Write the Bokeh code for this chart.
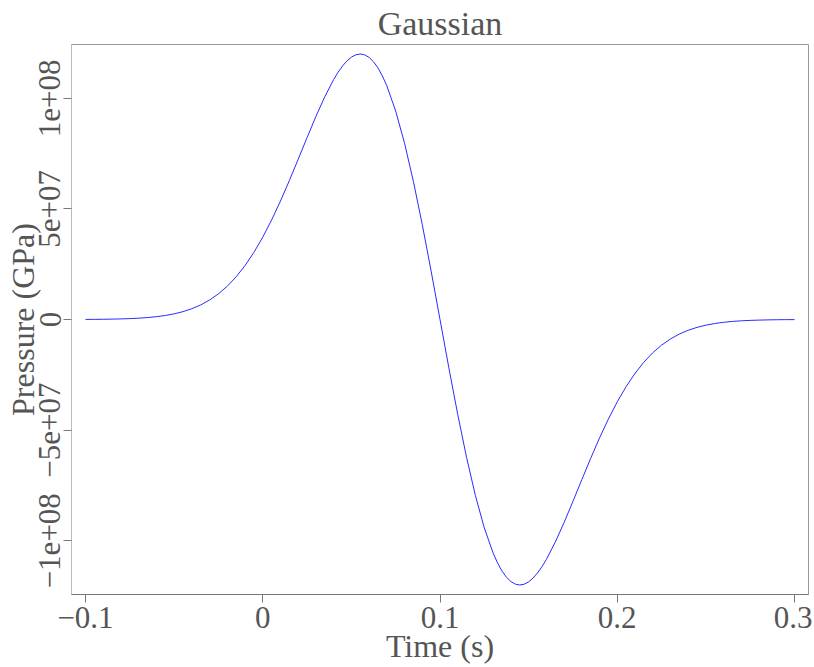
from bokeh.plotting import figure
from bokeh.models import Range1d, FixedTicker
from bokeh.embed import file_html
from bokeh.resources import INLINE

# Time samples (s)
time_s = [
    -0.100, -0.095, -0.090, -0.085, -0.080, -0.075, -0.070, -0.065, -0.060, -0.055,
    -0.050, -0.045, -0.040, -0.035, -0.030, -0.025, -0.020, -0.015, -0.010, -0.005,
    0.000, 0.005, 0.010, 0.015, 0.020, 0.025, 0.030, 0.035,
    0.0400, 0.0425, 0.0450, 0.0475, 0.0500, 0.0525, 0.0550, 0.0575, 0.0600, 0.0625,
    0.0650, 0.0675, 0.0700,
    0.075, 0.080, 0.085, 0.090, 0.095, 0.100, 0.105, 0.110, 0.115, 0.120, 0.125,
    0.1300, 0.1325, 0.1350, 0.1375, 0.1400, 0.1425, 0.1450, 0.1475, 0.1500, 0.1525,
    0.1550, 0.1575, 0.1600,
    0.165, 0.170, 0.175, 0.180, 0.185, 0.190, 0.195, 0.200, 0.205, 0.210,
    0.215, 0.220, 0.225, 0.230, 0.235, 0.240, 0.245, 0.250, 0.255, 0.260,
    0.265, 0.270, 0.275, 0.280, 0.285, 0.290, 0.295, 0.300,
]

# Pressure values (GPa)
pressure = [
    0.05e6, 0.07e6, 0.11e6, 0.17e6, 0.27e6, 0.40e6, 0.60e6, 0.87e6, 1.27e6, 1.81e6,
    2.55e6, 3.55e6, 4.87e6, 6.59e6, 8.81e6, 11.60e6, 15.07e6, 19.30e6, 24.37e6, 30.34e6,
    37.22e6, 44.98e6, 53.55e6, 62.78e6, 72.43e6, 82.22e6, 91.79e6, 100.69e6,
    108.45e6, 111.75e6, 114.58e6, 116.88e6, 118.58e6, 119.64e6, 120.00e6, 119.62e6, 118.47e6, 116.51e6,
    113.72e6, 110.08e6, 105.62e6,
    94.20e6, 79.66e6, 62.38e6, 42.89e6, 21.85e6, 0.0, -21.85e6, -42.89e6, -62.38e6, -79.66e6, -94.20e6,
    -105.62e6, -110.08e6, -113.72e6, -116.51e6, -118.47e6, -119.62e6, -120.00e6, -119.64e6, -118.58e6, -116.88e6,
    -114.58e6, -111.75e6, -108.45e6,
    -100.69e6, -91.79e6, -82.22e6, -72.43e6, -62.78e6, -53.55e6, -44.98e6, -37.22e6, -30.34e6, -24.37e6,
    -19.30e6, -15.07e6, -11.60e6, -8.81e6, -6.59e6, -4.87e6, -3.55e6, -2.55e6, -1.81e6, -1.27e6,
    -0.87e6, -0.60e6, -0.40e6, -0.27e6, -0.17e6, -0.11e6, -0.07e6, -0.05e6,
]

x_ticks = [-0.1, 0.0, 0.1, 0.2, 0.3]
x_tick_labels = ["\u22120.1", "0", "0.1", "0.2", "0.3"]
y_ticks = [-1e8, -5e7, 0, 5e7, 1e8]
y_tick_labels = ["\u22121e+08", "\u22125e+07", "0", "5e+07", "1e+08"]
title_text = "Gaussian"
x_label = "Time (s)"
y_label = "Pressure (GPa)"

FONT = "Liberation Serif"
TXT = "#555555"

p = figure(
    width=812, height=666,
    x_range=Range1d(-0.1079, 0.3079),
    y_range=Range1d(-1.243e8, 1.243e8),
    title=title_text,
    output_backend="svg", toolbar_location=None,
    min_border_left=71, min_border_right=4,
    min_border_top=43, min_border_bottom=71,
)

p.line(time_s, pressure, line_color="#2b2bff", line_width=1)

p.title.text_font = FONT
p.title.text_font_size = "34px"
p.title.text_font_style = "normal"
p.title.text_color = TXT
p.title.align = "center"
p.title.vertical_align = "bottom"
p.title.standoff = 5
p.title.text_line_height = 1.25

p.grid.visible = False
p.outline_line_color = "#999999"
p.background_fill_color = "white"
p.border_fill_color = "white"

p.xaxis.ticker = FixedTicker(ticks=x_ticks)
p.xaxis.major_label_overrides = dict(zip(x_ticks, x_tick_labels))
p.yaxis.ticker = FixedTicker(ticks=y_ticks)
p.yaxis.major_label_overrides = dict(zip(y_ticks, y_tick_labels))
p.yaxis.major_label_orientation = "vertical"

p.xaxis.axis_label = x_label
p.yaxis.axis_label = y_label

for ax in (p.xaxis, p.yaxis):
    ax.minor_tick_line_color = None
    ax.major_tick_in = 0
    ax.major_tick_out = 8
    ax.major_tick_line_color = "#777777"
    ax.major_label_text_font = FONT
    ax.major_label_text_font_size = "31px"
    ax.major_label_text_color = TXT
    ax.axis_label_text_font = FONT
    ax.axis_label_text_font_size = "32px"
    ax.axis_label_text_font_style = "normal"
    ax.axis_label_text_color = TXT

p.xaxis.axis_line_color = "#777777"
p.yaxis.axis_line_color = "#bbbbbb"
p.xaxis.major_label_standoff = 4
p.xaxis.axis_label_standoff = -3
p.yaxis.major_label_standoff = 3
p.yaxis.axis_label_standoff = -4

open("out.html", "w").write(file_html(p, INLINE))
